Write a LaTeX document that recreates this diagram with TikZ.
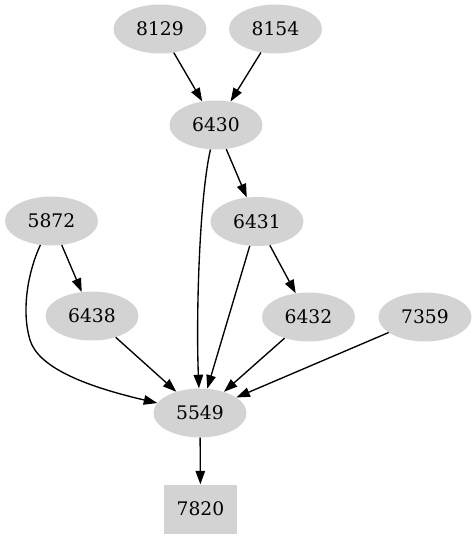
\documentclass[tikz,border=0pt]{standalone}
\usepackage{fontspec}
\setmainfont{DejaVu Serif}
\usepackage{xcolor}
\usepackage{tikz}
\usetikzlibrary{arrows.meta,shapes.geometric}
\definecolor{nodegray}{HTML}{D3D3D3}

\begin{document}
\begin{tikzpicture}[
  x=1pt, y=1pt,
  font=\fontsize{18.7}{22}\selectfont,
  vtx/.style={ellipse, fill=nodegray, minimum width=93pt, minimum height=49pt, inner sep=0pt},
  sink/.style={rectangle, fill=nodegray, minimum width=73pt, minimum height=49pt, inner sep=0pt},
  arr/.style={-{Triangle[length=13.5pt, width=9.5pt]}, line width=1.35pt, black}]
\useasboundingbox (0,0) rectangle (476,-539);
\node[vtx] (n8129) at (160,-29) {8129};
\node[vtx] (n8154) at (275.5,-29) {8154};
\node[vtx] (n6430) at (216,-125) {6430};
\node[vtx] (n5872) at (51.5,-221) {5872};
\node[vtx] (n6431) at (257,-221.5) {6431};
\node[vtx] (n6438) at (92,-316) {6438};
\node[vtx] (n6432) at (308.5,-317) {6432};
\node[vtx] (n7359) at (425,-317) {7359};
\node[vtx] (n5549) at (200,-413) {5549};
\node[sink] (n7820) at (200.5,-509) {7820};
\draw[arr] (n8129) -- (n6430);
\draw[arr] (n8154) -- (n6430);
\draw[arr] (n6430) -- (n6431);
\draw[arr] (n6430) .. controls (199,-200) and (196,-320) .. (n5549);
\draw[arr] (n5872) -- (n6438);
\draw[arr] (n5872) .. controls (27.6,-272.6) and (21.3,-311) .. (30,-340)
  .. controls (38,-366) and (80,-385) .. (n5549);
\draw[arr] (n6431) -- (n6432);
\draw[arr] (n6431) -- (n5549);
\draw[arr] (n6438) -- (n5549);
\draw[arr] (n6432) -- (n5549);
\draw[arr] (n7359) -- (n5549);
\draw[arr] (n5549) -- (n7820);
\end{tikzpicture}
\end{document}
